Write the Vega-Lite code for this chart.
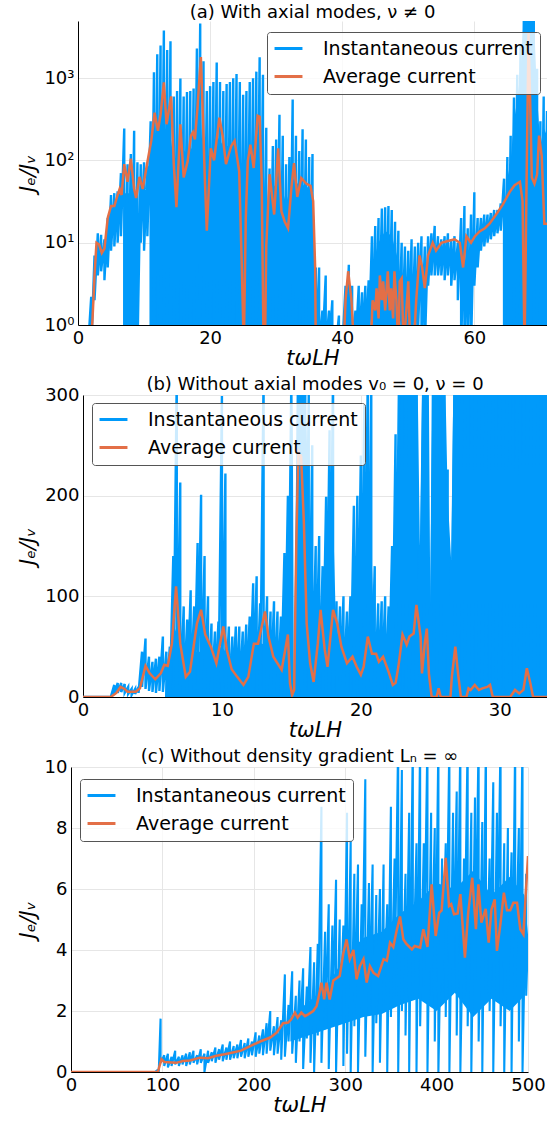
{
"$schema": "https://vega.github.io/schema/vega-lite/v6.json",
"padding": {"left": 16, "top": 4, "right": 0, "bottom": 0},
"background": "white",
"spacing": 8,
"resolve": {"scale": {"color": "independent"}, "legend": {"color": "independent"}},
"config": {
  "font": "DejaVu Sans",
  "view": {"stroke": null},
  "title": {"font": "DejaVu Sans", "fontSize": 18, "fontWeight": "normal", "color": "#000", "anchor": "middle"},
  "axis": {"labelFont": "DejaVu Sans", "labelFontSize": 18, "labelColor": "#000", "titleFont": "DejaVu Sans", "titleFontSize": 21, "titleFontStyle": "italic", "titleFontWeight": "normal", "titleColor": "#000", "domainColor": "#000", "domainWidth": 1, "ticks": false, "gridColor": "#e6e6e6", "gridWidth": 1, "labelFlush": false, "labelOverlap": false, "labelPadding": 4},
  "axisX": {"titlePadding": 0},
  "axisY": {"titlePadding": 5},
  "legend": {"title": null, "labelFont": "DejaVu Sans", "labelFontSize": 19, "labelColor": "#000", "labelLimit": 400, "symbolType": "M-2,0H2", "symbolSize": 195, "symbolStrokeWidth": 3, "symbolOffset": 5, "labelOffset": 25, "padding": 7, "rowPadding": 8, "fillColor": "rgba(255,255,255,0.8)", "strokeColor": "#555555", "cornerRadius": 3}
},
"datasets": {
"ai": [
{"t":1.5,"lo":0.5,"hi":0.5},{"t":2.0,"lo":0.5,"hi":2.2},{"t":2.5,"lo":2,"hi":7},{"t":3.0,"lo":4,"hi":13},{"t":3.5,"lo":4.5,"hi":12.5},{"t":4.0,"lo":3.5,"hi":11},{"t":4.5,"lo":5,"hi":20},{"t":5.0,"lo":8,"hi":38},{"t":5.5,"lo":9,"hi":40},{"t":6.0,"lo":10,"hi":42},{"t":6.5,"lo":12,"hi":70},{"t":7.0,"lo":0.5,"hi":245},{"t":7.5,"lo":0.5,"hi":90},{"t":8.0,"lo":0.5,"hi":120},{"t":8.5,"lo":0.5,"hi":230},{"t":9.0,"lo":0.5,"hi":95},{"t":9.5,"lo":10,"hi":90},{"t":10.0,"lo":8,"hi":95},{"t":10.5,"lo":12,"hi":85},{"t":11.0,"lo":0.5,"hi":300},{"t":11.5,"lo":0.5,"hi":1180},{"t":12.0,"lo":0.5,"hi":1950},{"t":12.5,"lo":0.5,"hi":2500},{"t":13.0,"lo":0.5,"hi":3800},{"t":13.5,"lo":0.5,"hi":2200},{"t":14.0,"lo":0.5,"hi":2800},{"t":14.5,"lo":0.5,"hi":600},{"t":15.0,"lo":0.5,"hi":700},{"t":15.5,"lo":0.5,"hi":990},{"t":16.0,"lo":0.5,"hi":600},{"t":16.5,"lo":0.5,"hi":680},{"t":17.0,"lo":0.5,"hi":700},{"t":17.5,"lo":0.5,"hi":750},{"t":18.0,"lo":0.5,"hi":2300},{"t":18.5,"lo":0.5,"hi":4600},{"t":19.0,"lo":0.5,"hi":1600},{"t":19.5,"lo":0.5,"hi":700},{"t":20.0,"lo":0.5,"hi":800},{"t":20.5,"lo":0.5,"hi":900},{"t":21.0,"lo":0.5,"hi":1550},{"t":21.5,"lo":0.5,"hi":900},{"t":22.0,"lo":0.5,"hi":700},{"t":22.5,"lo":0.5,"hi":850},{"t":23.0,"lo":0.5,"hi":900},{"t":23.5,"lo":0.5,"hi":1000},{"t":24.0,"lo":0.5,"hi":1120},{"t":24.5,"lo":0.5,"hi":900},{"t":25.0,"lo":0.5,"hi":630},{"t":25.5,"lo":0.5,"hi":700},{"t":26.0,"lo":0.5,"hi":900},{"t":26.5,"lo":0.5,"hi":1000},{"t":27.0,"lo":0.5,"hi":1200},{"t":27.5,"lo":0.5,"hi":1800},{"t":28.0,"lo":0.5,"hi":1100},{"t":28.5,"lo":0.5,"hi":250},{"t":29.0,"lo":0.5,"hi":80},{"t":29.5,"lo":0.5,"hi":150},{"t":30.0,"lo":0.5,"hi":180},{"t":30.5,"lo":0.5,"hi":360},{"t":31.0,"lo":0.5,"hi":200},{"t":31.5,"lo":0.5,"hi":90},{"t":32.0,"lo":0.5,"hi":110},{"t":32.5,"lo":0.5,"hi":550},{"t":33.0,"lo":0.5,"hi":200},{"t":33.5,"lo":0.5,"hi":130},{"t":34.0,"lo":0.5,"hi":240},{"t":34.5,"lo":0.5,"hi":180},{"t":35.0,"lo":0.5,"hi":110},{"t":35.5,"lo":0.5,"hi":120},{"t":36.0,"lo":0.5,"hi":5},{"t":36.5,"lo":0.5,"hi":5},{"t":37.0,"lo":0.5,"hi":1.5},{"t":37.5,"lo":0.5,"hi":4},{"t":38.0,"lo":0.5,"hi":1.5},{"t":38.5,"lo":0.5,"hi":2},{"t":39.0,"lo":0.5,"hi":0.5},{"t":39.5,"lo":0.5,"hi":1.3},{"t":40.0,"lo":0.5,"hi":0.5},{"t":40.5,"lo":0.5,"hi":3},{"t":41.0,"lo":0.5,"hi":5.4},{"t":41.5,"lo":0.5,"hi":3},{"t":42.0,"lo":0.5,"hi":1.5},{"t":42.5,"lo":0.5,"hi":3},{"t":43.0,"lo":0.5,"hi":2.5},{"t":43.5,"lo":0.5,"hi":3},{"t":44.0,"lo":0.5,"hi":3.5},{"t":44.5,"lo":0.5,"hi":12},{"t":45.0,"lo":0.5,"hi":16},{"t":45.5,"lo":0.5,"hi":20},{"t":46.0,"lo":0.5,"hi":26},{"t":46.5,"lo":0.5,"hi":27},{"t":47.0,"lo":0.5,"hi":28},{"t":47.5,"lo":0.5,"hi":25},{"t":48.0,"lo":0.5,"hi":18},{"t":48.5,"lo":0.5,"hi":14},{"t":49.0,"lo":0.5,"hi":10},{"t":49.5,"lo":0.5,"hi":9},{"t":50.0,"lo":0.5,"hi":8},{"t":50.5,"lo":0.5,"hi":11},{"t":51.0,"lo":0.5,"hi":9},{"t":51.5,"lo":1,"hi":10},{"t":52.0,"lo":0.5,"hi":12},{"t":52.5,"lo":0.5,"hi":9},{"t":53.0,"lo":3,"hi":12},{"t":53.5,"lo":4,"hi":13},{"t":54.0,"lo":4,"hi":16},{"t":54.5,"lo":4,"hi":12},{"t":55.0,"lo":4,"hi":11},{"t":55.5,"lo":3.5,"hi":12},{"t":56.0,"lo":4,"hi":13},{"t":56.5,"lo":3,"hi":11},{"t":57.0,"lo":3.5,"hi":12},{"t":57.5,"lo":2,"hi":10},{"t":58.0,"lo":0.5,"hi":20},{"t":58.5,"lo":0.5,"hi":28},{"t":59.0,"lo":0.5,"hi":15},{"t":59.5,"lo":0.5,"hi":22},{"t":60.0,"lo":3,"hi":41},{"t":60.5,"lo":5,"hi":20},{"t":61.0,"lo":8,"hi":20},{"t":61.5,"lo":9,"hi":22},{"t":62.0,"lo":10,"hi":22},{"t":62.5,"lo":11,"hi":23},{"t":63.0,"lo":12,"hi":25},{"t":63.5,"lo":13,"hi":25},{"t":64.0,"lo":14,"hi":30},{"t":64.5,"lo":0.5,"hi":60},{"t":65.0,"lo":0.5,"hi":110},{"t":65.5,"lo":0.5,"hi":200},{"t":66.0,"lo":0.5,"hi":580},{"t":66.5,"lo":0.5,"hi":1100},{"t":67.0,"lo":0.5,"hi":2500},{"t":67.5,"lo":0.5,"hi":6000},{"t":68.0,"lo":0.5,"hi":6000},{"t":68.5,"lo":0.5,"hi":6000},{"t":69.0,"lo":0.5,"hi":6000},{"t":69.5,"lo":0.5,"hi":1300},{"t":70.0,"lo":0.5,"hi":300},{"t":70.5,"lo":0.5,"hi":600},{"t":71.0,"lo":0.5,"hi":400}
],
"ac": [
{"seg":1,"t":6.9,"core":0.5},{"seg":1,"t":7.0,"core":40},{"seg":1,"t":9.0,"core":40},{"seg":1,"t":9.1,"core":0.5},
{"seg":2,"t":10.9,"core":0.5},{"seg":2,"t":11.0,"core":80},{"seg":2,"t":11.5,"core":150},{"seg":2,"t":12.0,"core":200},{"seg":2,"t":13.0,"core":250},{"seg":2,"t":14.0,"core":200},{"seg":2,"t":14.5,"core":100},{"seg":2,"t":15.0,"core":30},{"seg":2,"t":15.5,"core":150},{"seg":2,"t":16.5,"core":120},{"seg":2,"t":17.5,"core":150},{"seg":2,"t":18.5,"core":250},{"seg":2,"t":19.0,"core":100},{"seg":2,"t":19.5,"core":25},{"seg":2,"t":20.0,"core":120},{"seg":2,"t":21.0,"core":200},{"seg":2,"t":22.0,"core":150},{"seg":2,"t":23.0,"core":150},{"seg":2,"t":24.0,"core":150},{"seg":2,"t":24.5,"core":70},{"seg":2,"t":25.0,"core":15},{"seg":2,"t":25.5,"core":80},{"seg":2,"t":26.5,"core":150},{"seg":2,"t":27.5,"core":250},{"seg":2,"t":28.0,"core":120},{"seg":2,"t":28.5,"core":15},{"seg":2,"t":29.0,"core":40},{"seg":2,"t":30.5,"core":60},{"seg":2,"t":31.5,"core":30},{"seg":2,"t":32.5,"core":60},{"seg":2,"t":33.5,"core":50},{"seg":2,"t":34.5,"core":50},{"seg":2,"t":35.5,"core":40},{"seg":2,"t":35.9,"core":3},{"seg":2,"t":36.0,"core":0.5},
{"seg":3,"t":44.4,"core":0.5},{"seg":3,"t":44.5,"core":5},{"seg":3,"t":45.5,"core":10},{"seg":3,"t":46.5,"core":14},{"seg":3,"t":47.5,"core":12},{"seg":3,"t":48.5,"core":6},{"seg":3,"t":48.6,"core":0.5},
{"seg":4,"t":64.4,"core":0.5},{"seg":4,"t":64.5,"core":25},{"seg":4,"t":65.0,"core":60},{"seg":4,"t":65.5,"core":100},{"seg":4,"t":66.0,"core":300},{"seg":4,"t":66.5,"core":550},{"seg":4,"t":67.0,"core":1200},{"seg":4,"t":67.5,"core":6000},{"seg":4,"t":69.0,"core":6000},{"seg":4,"t":69.5,"core":600},{"seg":4,"t":70.0,"core":150},{"seg":4,"t":70.5,"core":250},{"seg":4,"t":71.0,"core":200}
],
"aa": [
{"t":1.9,"v":0.5},{"t":2.2,"v":1.2},{"t":2.5,"v":4},{"t":2.8,"v":10},{"t":3.2,"v":9.5},{"t":3.6,"v":7.5},{"t":4.0,"v":8.5},{"t":4.5,"v":20},{"t":5.0,"v":28},{"t":5.5,"v":28},{"t":6.0,"v":38},{"t":6.3,"v":45},{"t":6.6,"v":38},{"t":7.0,"v":90},{"t":7.5,"v":55},{"t":8.0,"v":105},{"t":8.5,"v":45},{"t":8.8,"v":35},{"t":9.3,"v":63},{"t":9.8,"v":45},{"t":10.5,"v":95},{"t":11.1,"v":175},{"t":11.6,"v":380},{"t":12.1,"v":230},{"t":12.5,"v":360},{"t":13.0,"v":890},{"t":13.4,"v":275},{"t":14.1,"v":600},{"t":14.5,"v":90},{"t":14.9,"v":27},{"t":15.5,"v":275},{"t":16.0,"v":62},{"t":16.6,"v":98},{"t":17.1,"v":200},{"t":17.4,"v":220},{"t":17.7,"v":180},{"t":18.1,"v":450},{"t":18.6,"v":1800},{"t":18.9,"v":360},{"t":19.2,"v":60},{"t":19.5,"v":14},{"t":20.1,"v":140},{"t":20.6,"v":100},{"t":21.4,"v":330},{"t":21.9,"v":200},{"t":22.4,"v":90},{"t":23.2,"v":150},{"t":23.7,"v":173},{"t":24.4,"v":74},{"t":24.8,"v":5},{"t":25.1,"v":0.5},{"t":25.4,"v":20},{"t":25.7,"v":98},{"t":26.1,"v":155},{"t":26.6,"v":81},{"t":27.2,"v":350},{"t":27.5,"v":340},{"t":27.8,"v":60},{"t":28.1,"v":0.5},{"t":28.3,"v":0.5},{"t":28.5,"v":9},{"t":29.0,"v":68},{"t":29.7,"v":22},{"t":30.3,"v":140},{"t":30.8,"v":24},{"t":31.3,"v":18},{"t":31.8,"v":15},{"t":32.3,"v":46},{"t":32.7,"v":93},{"t":33.2,"v":36},{"t":33.8,"v":61},{"t":34.6,"v":52},{"t":35.2,"v":49},{"t":35.6,"v":32},{"t":35.9,"v":5},{"t":36.0,"v":0.5},{"t":40.2,"v":0.5},{"t":40.5,"v":2},{"t":40.9,"v":4.5},{"t":41.4,"v":2},{"t":41.8,"v":0.5},{"t":44.3,"v":0.5},{"t":44.6,"v":2},{"t":45.0,"v":1.5},{"t":45.2,"v":2.8},{"t":45.5,"v":1.2},{"t":45.7,"v":4},{"t":46.0,"v":2},{"t":46.2,"v":3.4},{"t":46.5,"v":1.5},{"t":46.9,"v":4.5},{"t":47.2,"v":1.5},{"t":47.4,"v":2.8},{"t":47.7,"v":1.2},{"t":47.9,"v":4.5},{"t":48.2,"v":2},{"t":48.5,"v":0.5},{"t":48.7,"v":3.4},{"t":49.0,"v":3.7},{"t":49.3,"v":0.5},{"t":49.7,"v":1.5},{"t":50.0,"v":3.4},{"t":50.3,"v":0.5},{"t":50.8,"v":0.5},{"t":51.2,"v":2},{"t":51.7,"v":7},{"t":52.1,"v":5},{"t":52.5,"v":2.8},{"t":53.0,"v":7},{"t":53.7,"v":10},{"t":54.2,"v":8},{"t":55.0,"v":10},{"t":56.0,"v":10.5},{"t":57.0,"v":11},{"t":57.8,"v":10},{"t":58.3,"v":5},{"t":58.8,"v":12},{"t":59.5,"v":10},{"t":60.1,"v":12},{"t":60.8,"v":13.7},{"t":61.6,"v":15},{"t":62.3,"v":17},{"t":63.3,"v":22},{"t":64.3,"v":29},{"t":65.4,"v":42},{"t":66.1,"v":50},{"t":66.9,"v":55},{"t":67.3,"v":32},{"t":67.6,"v":0.5},{"t":67.9,"v":50},{"t":68.2,"v":3500},{"t":68.5,"v":360},{"t":68.7,"v":62},{"t":69.1,"v":52},{"t":69.5,"v":68},{"t":69.8,"v":200},{"t":70.2,"v":112},{"t":70.6,"v":17},{"t":71.0,"v":17}
],
"bi": [
{"t":0,"lo":0,"hi":0},{"t":2.0,"lo":0,"hi":0},{"t":2.25,"lo":3,"hi":12},{"t":2.5,"lo":4,"hi":14},{"t":2.75,"lo":5,"hi":14},{"t":3.0,"lo":4,"hi":13},{"t":3.25,"lo":3,"hi":10},{"t":3.5,"lo":2,"hi":8},{"t":3.75,"lo":3,"hi":8},{"t":4.0,"lo":4,"hi":10},{"t":4.25,"lo":10,"hi":45},{"t":4.5,"lo":8,"hi":58},{"t":4.75,"lo":6,"hi":40},{"t":5.0,"lo":5,"hi":35},{"t":5.25,"lo":4,"hi":38},{"t":5.5,"lo":6,"hi":40},{"t":5.75,"lo":5,"hi":60},{"t":6.0,"lo":0,"hi":45},{"t":6.25,"lo":0,"hi":50},{"t":6.5,"lo":0,"hi":140},{"t":6.75,"lo":0,"hi":320},{"t":7.0,"lo":0,"hi":213},{"t":7.25,"lo":0,"hi":90},{"t":7.5,"lo":0,"hi":77},{"t":7.75,"lo":0,"hi":106},{"t":8.0,"lo":0,"hi":90},{"t":8.25,"lo":0,"hi":153},{"t":8.5,"lo":0,"hi":201},{"t":8.75,"lo":0,"hi":140},{"t":9.0,"lo":0,"hi":100},{"t":9.25,"lo":0,"hi":73},{"t":9.5,"lo":0,"hi":65},{"t":9.75,"lo":0,"hi":75},{"t":10.0,"lo":0,"hi":299},{"t":10.25,"lo":0,"hi":222},{"t":10.5,"lo":0,"hi":70},{"t":10.75,"lo":0,"hi":60},{"t":11.0,"lo":0,"hi":70},{"t":11.25,"lo":0,"hi":70},{"t":11.5,"lo":0,"hi":65},{"t":11.75,"lo":0,"hi":72},{"t":12.0,"lo":0,"hi":80},{"t":12.25,"lo":0,"hi":113},{"t":12.5,"lo":0,"hi":120},{"t":12.75,"lo":0,"hi":93},{"t":13.0,"lo":0,"hi":320},{"t":13.25,"lo":0,"hi":100},{"t":13.5,"lo":0,"hi":85},{"t":13.75,"lo":0,"hi":95},{"t":14.0,"lo":0,"hi":85},{"t":14.25,"lo":0,"hi":80},{"t":14.5,"lo":0,"hi":143},{"t":14.75,"lo":0,"hi":200},{"t":15.0,"lo":0,"hi":320},{"t":15.25,"lo":0,"hi":0},{"t":15.5,"lo":0,"hi":320},{"t":15.75,"lo":0,"hi":320},{"t":16.0,"lo":0,"hi":320},{"t":16.25,"lo":0,"hi":300},{"t":16.5,"lo":0,"hi":250},{"t":16.75,"lo":0,"hi":150},{"t":17.0,"lo":0,"hi":160},{"t":17.25,"lo":0,"hi":130},{"t":17.5,"lo":0,"hi":199},{"t":17.75,"lo":0,"hi":265},{"t":18.0,"lo":0,"hi":320},{"t":18.25,"lo":0,"hi":95},{"t":18.5,"lo":0,"hi":90},{"t":18.75,"lo":0,"hi":100},{"t":19.0,"lo":0,"hi":85},{"t":19.25,"lo":0,"hi":100},{"t":19.5,"lo":0,"hi":190},{"t":19.75,"lo":0,"hi":200},{"t":20.0,"lo":0,"hi":240},{"t":20.25,"lo":0,"hi":290},{"t":20.5,"lo":0,"hi":320},{"t":20.75,"lo":0,"hi":320},{"t":21.0,"lo":0,"hi":130},{"t":21.25,"lo":0,"hi":93},{"t":21.5,"lo":0,"hi":95},{"t":21.75,"lo":0,"hi":100},{"t":22.0,"lo":0,"hi":90},{"t":22.25,"lo":0,"hi":150},{"t":22.5,"lo":0,"hi":261},{"t":22.75,"lo":0,"hi":320},{"t":23.0,"lo":0,"hi":320},{"t":23.25,"lo":0,"hi":320},{"t":23.5,"lo":0,"hi":320},{"t":23.75,"lo":0,"hi":320},{"t":24.0,"lo":0,"hi":320},{"t":24.25,"lo":0,"hi":150},{"t":24.5,"lo":0,"hi":320},{"t":24.75,"lo":0,"hi":320},{"t":25.0,"lo":0,"hi":90},{"t":25.25,"lo":0,"hi":320},{"t":25.5,"lo":0,"hi":320},{"t":25.75,"lo":0,"hi":320},{"t":26.0,"lo":0,"hi":320},{"t":26.25,"lo":0,"hi":226},{"t":26.5,"lo":0,"hi":136},{"t":26.75,"lo":0,"hi":320},{"t":27.0,"lo":0,"hi":320},{"t":27.25,"lo":0,"hi":320},{"t":27.5,"lo":0,"hi":320},{"t":27.75,"lo":0,"hi":320},{"t":28.0,"lo":0,"hi":320},{"t":28.25,"lo":0,"hi":320},{"t":28.5,"lo":0,"hi":320},{"t":28.75,"lo":0,"hi":320},{"t":29.0,"lo":0,"hi":320},{"t":29.25,"lo":0,"hi":320},{"t":29.5,"lo":0,"hi":320},{"t":29.75,"lo":0,"hi":320},{"t":30.0,"lo":0,"hi":320},{"t":30.25,"lo":0,"hi":320},{"t":30.5,"lo":0,"hi":320},{"t":30.75,"lo":0,"hi":320},{"t":31.0,"lo":0,"hi":320},{"t":31.25,"lo":0,"hi":320},{"t":31.5,"lo":0,"hi":320},{"t":31.75,"lo":0,"hi":320},{"t":32.0,"lo":0,"hi":320},{"t":32.25,"lo":0,"hi":320},{"t":32.5,"lo":0,"hi":320},{"t":32.75,"lo":0,"hi":320},{"t":33.0,"lo":0,"hi":320},{"t":33.25,"lo":0,"hi":320},{"t":33.5,"lo":0,"hi":320}
],
"bc": [
{"t":5.9,"core":0},{"t":6.0,"core":20},{"t":6.25,"core":30},{"t":6.5,"core":60},{"t":6.75,"core":70},{"t":7.0,"core":50},{"t":8.0,"core":45},{"t":9.0,"core":45},{"t":10.0,"core":50},{"t":10.5,"core":40},{"t":11.5,"core":45},{"t":12.5,"core":55},{"t":13.5,"core":50},{"t":14.5,"core":55},{"t":14.9,"core":100},{"t":15.1,"core":300},{"t":15.18,"core":0},{"t":15.3,"core":0},{"t":15.38,"core":300},{"t":16.0,"core":300},{"t":16.25,"core":200},{"t":16.5,"core":100},{"t":16.75,"core":60},{"t":17.5,"core":60},{"t":17.75,"core":120},{"t":18.0,"core":180},{"t":18.25,"core":50},{"t":19.25,"core":50},{"t":19.5,"core":80},{"t":19.75,"core":100},{"t":20.0,"core":150},{"t":20.75,"core":150},{"t":21.0,"core":50},{"t":22.0,"core":50},{"t":22.25,"core":80},{"t":22.5,"core":150},{"t":22.75,"core":300},{"t":24.1,"core":300},{"t":24.25,"core":150},{"t":24.4,"core":300},{"t":24.9,"core":300},{"t":25.0,"core":90},{"t":25.1,"core":300},{"t":26.1,"core":300},{"t":26.25,"core":200},{"t":26.5,"core":136},{"t":26.65,"core":300},{"t":33.5,"core":300}
],
"ba": [
{"t":0,"v":0},{"t":2.0,"v":0},{"t":2.4,"v":4},{"t":2.7,"v":10},{"t":3.0,"v":8},{"t":3.2,"v":5.3},{"t":3.8,"v":5.3},{"t":4.1,"v":8.6},{"t":4.5,"v":31},{"t":4.8,"v":23.5},{"t":5.2,"v":17.6},{"t":5.6,"v":23.5},{"t":5.85,"v":32},{"t":6.1,"v":31},{"t":6.4,"v":53},{"t":6.7,"v":110},{"t":7.0,"v":53},{"t":7.4,"v":20},{"t":7.7,"v":25},{"t":8.2,"v":73},{"t":8.5,"v":86.6},{"t":8.8,"v":62},{"t":9.2,"v":50},{"t":9.6,"v":33.5},{"t":10.1,"v":70},{"t":10.35,"v":47},{"t":10.7,"v":27.5},{"t":11.1,"v":20},{"t":11.55,"v":12},{"t":11.9,"v":20},{"t":12.3,"v":53},{"t":12.6,"v":53},{"t":13.1,"v":85},{"t":13.35,"v":60},{"t":13.7,"v":40},{"t":14.3,"v":27},{"t":14.75,"v":62},{"t":14.9,"v":13.6},{"t":15.05,"v":2},{"t":15.2,"v":7},{"t":15.35,"v":150},{"t":15.5,"v":244},{"t":15.7,"v":239},{"t":15.9,"v":173},{"t":16.1,"v":73},{"t":16.35,"v":33.5},{"t":16.6,"v":15},{"t":16.9,"v":53},{"t":17.1,"v":86.6},{"t":17.4,"v":47},{"t":17.6,"v":30},{"t":18.0,"v":86.6},{"t":18.3,"v":73},{"t":18.6,"v":50},{"t":19.0,"v":33.5},{"t":19.4,"v":40},{"t":19.7,"v":30},{"t":20.0,"v":22},{"t":20.2,"v":30},{"t":20.5,"v":60},{"t":20.8,"v":43},{"t":21.1,"v":43},{"t":21.3,"v":35},{"t":21.6,"v":40},{"t":22.0,"v":25},{"t":22.3,"v":12},{"t":22.5,"v":14},{"t":22.7,"v":30},{"t":23.0,"v":62},{"t":23.3,"v":52},{"t":23.5,"v":60},{"t":23.8,"v":63},{"t":24.0,"v":91.5},{"t":24.3,"v":60},{"t":24.4,"v":23.5},{"t":24.6,"v":53},{"t":24.75,"v":68},{"t":24.9,"v":23},{"t":25.1,"v":0},{"t":25.45,"v":0},{"t":25.6,"v":8.6},{"t":25.75,"v":0},{"t":26.45,"v":0},{"t":26.55,"v":20},{"t":26.8,"v":50},{"t":27.0,"v":23},{"t":27.2,"v":0},{"t":27.6,"v":0},{"t":27.75,"v":8.6},{"t":27.9,"v":7},{"t":28.2,"v":12},{"t":28.5,"v":7},{"t":28.75,"v":8.6},{"t":29.1,"v":10},{"t":29.3,"v":12},{"t":29.5,"v":0},{"t":30.75,"v":0},{"t":31.1,"v":7},{"t":31.4,"v":3.6},{"t":31.7,"v":7},{"t":31.95,"v":28.5},{"t":32.2,"v":13.6},{"t":32.4,"v":0},{"t":33.4,"v":0}
],
"ci": [
{"t":0,"lo":0,"hi":0},{"t":92,"lo":0,"hi":0},{"t":96,"lo":0,"hi":0.1},{"t":98,"lo":0.3,"hi":1.75},{"t":102,"lo":0.2,"hi":0.55},{"t":106,"lo":0.15,"hi":0.6},{"t":110,"lo":0.2,"hi":0.5},{"t":114,"lo":0.25,"hi":0.7},{"t":118,"lo":0.2,"hi":0.5},{"t":122,"lo":0.25,"hi":0.55},{"t":126,"lo":0.2,"hi":0.6},{"t":130,"lo":0.25,"hi":0.65},{"t":134,"lo":0.3,"hi":0.7},{"t":138,"lo":0.25,"hi":0.55},{"t":142,"lo":0.3,"hi":0.75},{"t":146,"lo":0,"hi":0.6},{"t":150,"lo":0.3,"hi":0.7},{"t":154,"lo":0.35,"hi":0.65},{"t":158,"lo":0.3,"hi":0.8},{"t":162,"lo":0.4,"hi":0.75},{"t":166,"lo":0.35,"hi":0.9},{"t":170,"lo":0.4,"hi":0.8},{"t":174,"lo":0.4,"hi":1.0},{"t":178,"lo":0.45,"hi":0.85},{"t":182,"lo":0.45,"hi":0.9},{"t":186,"lo":0.5,"hi":1.05},{"t":190,"lo":0.45,"hi":0.95},{"t":194,"lo":0.5,"hi":1.1},{"t":198,"lo":0.55,"hi":1.0},{"t":202,"lo":0.5,"hi":1.3},{"t":206,"lo":0.6,"hi":1.2},{"t":210,"lo":0.55,"hi":1.4},{"t":214,"lo":0.6,"hi":1.6},{"t":218,"lo":0.7,"hi":2.0},{"t":222,"lo":0.55,"hi":1.5},{"t":226,"lo":0.6,"hi":1.8},{"t":230,"lo":0.4,"hi":1.7},{"t":234,"lo":0.5,"hi":3.2},{"t":238,"lo":1.0,"hi":2.2},{"t":242,"lo":0.6,"hi":3.3},{"t":246,"lo":0.3,"hi":2.5},{"t":250,"lo":1.0,"hi":3.0},{"t":254,"lo":0.1,"hi":3.4},{"t":258,"lo":1.1,"hi":2.8},{"t":262,"lo":0.3,"hi":4.1},{"t":266,"lo":0,"hi":3.6},{"t":270,"lo":1.2,"hi":4.2},{"t":274,"lo":0.3,"hi":8.7},{"t":278,"lo":1.4,"hi":4.6},{"t":282,"lo":0.1,"hi":5.5},{"t":286,"lo":1.5,"hi":4.8},{"t":290,"lo":0,"hi":6.3},{"t":294,"lo":1.6,"hi":5.0},{"t":298,"lo":0.2,"hi":4.8},{"t":302,"lo":0.6,"hi":8.5},{"t":306,"lo":0,"hi":7.6},{"t":310,"lo":1.5,"hi":6.5},{"t":314,"lo":0,"hi":6.8},{"t":318,"lo":1.8,"hi":5.5},{"t":322,"lo":0.5,"hi":9.6},{"t":326,"lo":2.0,"hi":6.2},{"t":330,"lo":0,"hi":6.8},{"t":334,"lo":1.6,"hi":5.8},{"t":338,"lo":0.3,"hi":6.0},{"t":342,"lo":2.2,"hi":6.8},{"t":346,"lo":0,"hi":5.5},{"t":350,"lo":1.8,"hi":8.7},{"t":354,"lo":2.5,"hi":7.0},{"t":358,"lo":0,"hi":11},{"t":362,"lo":2.0,"hi":9.9},{"t":366,"lo":1.2,"hi":6.5},{"t":370,"lo":0,"hi":8.5},{"t":374,"lo":2.5,"hi":11},{"t":378,"lo":0,"hi":7.5},{"t":382,"lo":1.5,"hi":11},{"t":386,"lo":2.8,"hi":7.5},{"t":390,"lo":0,"hi":11},{"t":394,"lo":2.5,"hi":8.5},{"t":398,"lo":1.0,"hi":8.0},{"t":402,"lo":0,"hi":11},{"t":406,"lo":2.6,"hi":7.0},{"t":410,"lo":1.8,"hi":7.5},{"t":414,"lo":0,"hi":11},{"t":418,"lo":3.0,"hi":8.5},{"t":422,"lo":1.2,"hi":9.2},{"t":426,"lo":0,"hi":11},{"t":430,"lo":2.5,"hi":7.0},{"t":434,"lo":1.5,"hi":11},{"t":438,"lo":0,"hi":8.5},{"t":442,"lo":3.0,"hi":9.0},{"t":446,"lo":1.0,"hi":11},{"t":450,"lo":0,"hi":8.2},{"t":454,"lo":2.5,"hi":11},{"t":458,"lo":2.0,"hi":7.0},{"t":462,"lo":0,"hi":9.5},{"t":466,"lo":3.0,"hi":8.5},{"t":470,"lo":1.5,"hi":11},{"t":474,"lo":0,"hi":7.5},{"t":478,"lo":2.5,"hi":8.0},{"t":482,"lo":0,"hi":7.2},{"t":486,"lo":2.8,"hi":11},{"t":490,"lo":1.0,"hi":8.0},{"t":494,"lo":0,"hi":11},{"t":498,"lo":2.5,"hi":6.5},{"t":500,"lo":3.3,"hi":4.5}
],
"cc": [
{"t":240,"cl":1.0,"ch":1.8},{"t":260,"cl":1.2,"ch":2.3},{"t":280,"cl":1.4,"ch":2.8},{"t":300,"cl":1.6,"ch":3.8},{"t":320,"cl":1.8,"ch":4.4},{"t":340,"cl":1.9,"ch":4.6},{"t":360,"cl":2.2,"ch":5.2},{"t":380,"cl":2.4,"ch":5.6},{"t":400,"cl":2.0,"ch":6.2},{"t":420,"cl":2.6,"ch":6.0},{"t":440,"cl":1.8,"ch":6.6},{"t":460,"cl":2.4,"ch":5.8},{"t":480,"cl":2.0,"ch":6.4},{"t":496,"cl":2.5,"ch":5.8},{"t":500,"cl":3.5,"ch":4.5}
],
"ca": [
{"t":0,"v":0},{"t":95,"v":0},{"t":99,"v":0.42},{"t":102,"v":0.33},{"t":115,"v":0.3},{"t":122.6,"v":0.36},{"t":130,"v":0.38},{"t":141,"v":0.47},{"t":150,"v":0.45},{"t":159,"v":0.53},{"t":168,"v":0.58},{"t":177,"v":0.64},{"t":186,"v":0.7},{"t":196,"v":0.85},{"t":207,"v":1.0},{"t":218,"v":1.13},{"t":225,"v":1.29},{"t":232,"v":1.6},{"t":237.6,"v":1.62},{"t":241,"v":1.73},{"t":245,"v":1.95},{"t":248,"v":1.78},{"t":252,"v":1.95},{"t":256,"v":1.83},{"t":259.5,"v":1.89},{"t":265,"v":2.0},{"t":268.6,"v":2.16},{"t":270.4,"v":2.38},{"t":274,"v":2.93},{"t":277,"v":2.38},{"t":279.6,"v":2.93},{"t":283,"v":2.38},{"t":287,"v":3.0},{"t":294,"v":3.15},{"t":298,"v":3.9},{"t":301.5,"v":4.35},{"t":305,"v":3.7},{"t":309,"v":4.0},{"t":312.5,"v":3.04},{"t":316,"v":3.47},{"t":320,"v":3.7},{"t":323.5,"v":2.93},{"t":327,"v":3.47},{"t":331,"v":3.25},{"t":336,"v":3.15},{"t":342,"v":3.7},{"t":345.6,"v":3.65},{"t":349,"v":4.24},{"t":352.6,"v":4.1},{"t":356,"v":4.6},{"t":360,"v":5.1},{"t":363.6,"v":4.35},{"t":367,"v":4.2},{"t":373,"v":4.02},{"t":376,"v":4.13},{"t":382,"v":4.08},{"t":385.5,"v":4.68},{"t":390,"v":4.1},{"t":394.6,"v":6.15},{"t":399,"v":4.46},{"t":402.8,"v":5.22},{"t":405.5,"v":5.3},{"t":410,"v":7.02},{"t":413.6,"v":5.44},{"t":416,"v":5.5},{"t":419,"v":5.17},{"t":423,"v":5.2},{"t":426,"v":5.83},{"t":431,"v":3.75},{"t":434.5,"v":5.2},{"t":439,"v":6.37},{"t":443,"v":4.68},{"t":445.7,"v":6.15},{"t":449,"v":4.9},{"t":453.7,"v":5.35},{"t":457,"v":4.24},{"t":460,"v":5.33},{"t":463.6,"v":5.66},{"t":466,"v":3.97},{"t":470,"v":4.9},{"t":473.6,"v":5.88},{"t":477,"v":5.3},{"t":480.6,"v":5.3},{"t":484,"v":5.55},{"t":488,"v":5.55},{"t":491.6,"v":4.68},{"t":495,"v":4.51},{"t":500,"v":7.08}
]
},
"vconcat": [
{"spacing": 0, "hconcat": [
{"width": 1, "height": 1, "data": {"values": []}, "mark": "point", "encoding": {}},
{
  "title": {"text": "(a) With axial modes, ν ≠ 0", "offset": -1},
  "width": 469, "height": 304,
  "layer": [
    {"data": {"name": "ac"},
     "mark": {"type": "area", "clip": true, "color": "#009AFA"},
     "encoding": {
       "x": {"field": "t", "type": "quantitative", "scale": {"domain": [0, 71], "nice": false}, "axis": {"values": [0, 20, 40, 60], "title": "tωLH"}},
       "y": {"field": "core", "type": "quantitative", "scale": {"type": "log", "domain": [1, 4950], "nice": false}, "axis": {"values": [1, 10, 100, 1000], "labelExpr": "datum.value == 1 ? '10⁰' : datum.value == 10 ? '10¹' : datum.value == 100 ? '10²' : '10³'", "title": "Jₑ/Jᵥ", "minExtent": 35, "maxExtent": 35}},
       "y2": {"datum": 0.5},
       "detail": {"field": "seg", "type": "nominal"}
     }},
    {"data": {"name": "ai"}, "transform": [{"fold": ["hi", "lo"], "as": ["k", "v"]}],
     "mark": {"type": "line", "clip": true, "strokeWidth": 2.4},
     "encoding": {
       "x": {"field": "t", "type": "quantitative"},
       "y": {"field": "v", "type": "quantitative"},
       "color": {"datum": "Instantaneous current", "type": "nominal", "scale": {"domain": ["Instantaneous current", "Average current"], "range": ["#009AFA", "#E36F47"]}, "legend": {"orient": "none", "legendX": 251, "legendY": 11, "symbolType": "M-2,0H2"}}
     }},
    {"data": {"name": "aa"},
     "mark": {"type": "line", "clip": true, "strokeWidth": 2.5},
     "encoding": {
       "x": {"field": "t", "type": "quantitative"},
       "y": {"field": "v", "type": "quantitative"},
       "color": {"datum": "Average current", "type": "nominal"}
     }}
  ]
}]},
{"spacing": 0, "hconcat": [
{"width": 1, "height": 1, "data": {"values": []}, "mark": "point", "encoding": {}},
{
  "title": {"text": "(b) Without axial modes v₀ = 0, ν = 0", "offset": -8},
  "width": 464, "height": 302,
  "layer": [
    {"data": {"name": "bc"},
     "mark": {"type": "area", "clip": true, "color": "#009AFA"},
     "encoding": {
       "x": {"field": "t", "type": "quantitative", "scale": {"domain": [0, 33.4], "nice": false}, "axis": {"values": [0, 10, 20, 30], "title": "tωLH"}},
       "y": {"field": "core", "type": "quantitative", "scale": {"domain": [0, 300], "nice": false}, "axis": {"values": [0, 100, 200, 300], "title": "Jₑ/Jᵥ", "minExtent": 40, "maxExtent": 40}}
     }},
    {"data": {"name": "bi"}, "transform": [{"fold": ["hi", "lo"], "as": ["k", "v"]}],
     "mark": {"type": "line", "clip": true, "strokeWidth": 2.4},
     "encoding": {
       "x": {"field": "t", "type": "quantitative"},
       "y": {"field": "v", "type": "quantitative"},
       "color": {"datum": "Instantaneous current", "type": "nominal", "scale": {"domain": ["Instantaneous current", "Average current"], "range": ["#009AFA", "#E36F47"]}, "legend": {"orient": "none", "legendX": 76, "legendY": 8, "symbolType": "M-2,0H2"}}
     }},
    {"data": {"name": "ba"},
     "mark": {"type": "line", "clip": true, "strokeWidth": 2.5},
     "encoding": {
       "x": {"field": "t", "type": "quantitative"},
       "y": {"field": "v", "type": "quantitative"},
       "color": {"datum": "Average current", "type": "nominal"}
     }}
  ]
}]},
{"spacing": 0, "hconcat": [
{"width": 1, "height": 1, "data": {"values": []}, "mark": "point", "encoding": {}},
{
  "title": {"text": "(c) Without density gradient Lₙ = ∞", "offset": -8},
  "width": 457, "height": 305,
  "layer": [
    {"data": {"name": "cc"},
     "mark": {"type": "area", "clip": true, "color": "#009AFA"},
     "encoding": {
       "x": {"field": "t", "type": "quantitative", "scale": {"domain": [0, 500], "nice": false}, "axis": {"values": [0, 100, 200, 300, 400, 500], "title": "tωLH"}},
       "y": {"field": "ch", "type": "quantitative", "scale": {"domain": [0, 10], "nice": false}, "axis": {"values": [0, 2, 4, 6, 8, 10], "title": "Jₑ/Jᵥ", "minExtent": 28, "maxExtent": 28}},
       "y2": {"field": "cl"}
     }},
    {"data": {"name": "ci"}, "transform": [{"fold": ["hi", "lo"], "as": ["k", "v"]}],
     "mark": {"type": "line", "clip": true, "strokeWidth": 2.1},
     "encoding": {
       "x": {"field": "t", "type": "quantitative"},
       "y": {"field": "v", "type": "quantitative"},
       "color": {"datum": "Instantaneous current", "type": "nominal", "scale": {"domain": ["Instantaneous current", "Average current"], "range": ["#009AFA", "#E36F47"]}, "legend": {"orient": "none", "legendX": 64, "legendY": 12, "symbolType": "M-2,0H2"}}
     }},
    {"data": {"name": "ca"},
     "mark": {"type": "line", "clip": true, "strokeWidth": 2.5},
     "encoding": {
       "x": {"field": "t", "type": "quantitative"},
       "y": {"field": "v", "type": "quantitative"},
       "color": {"datum": "Average current", "type": "nominal"}
     }}
  ]
}]}
]
}
